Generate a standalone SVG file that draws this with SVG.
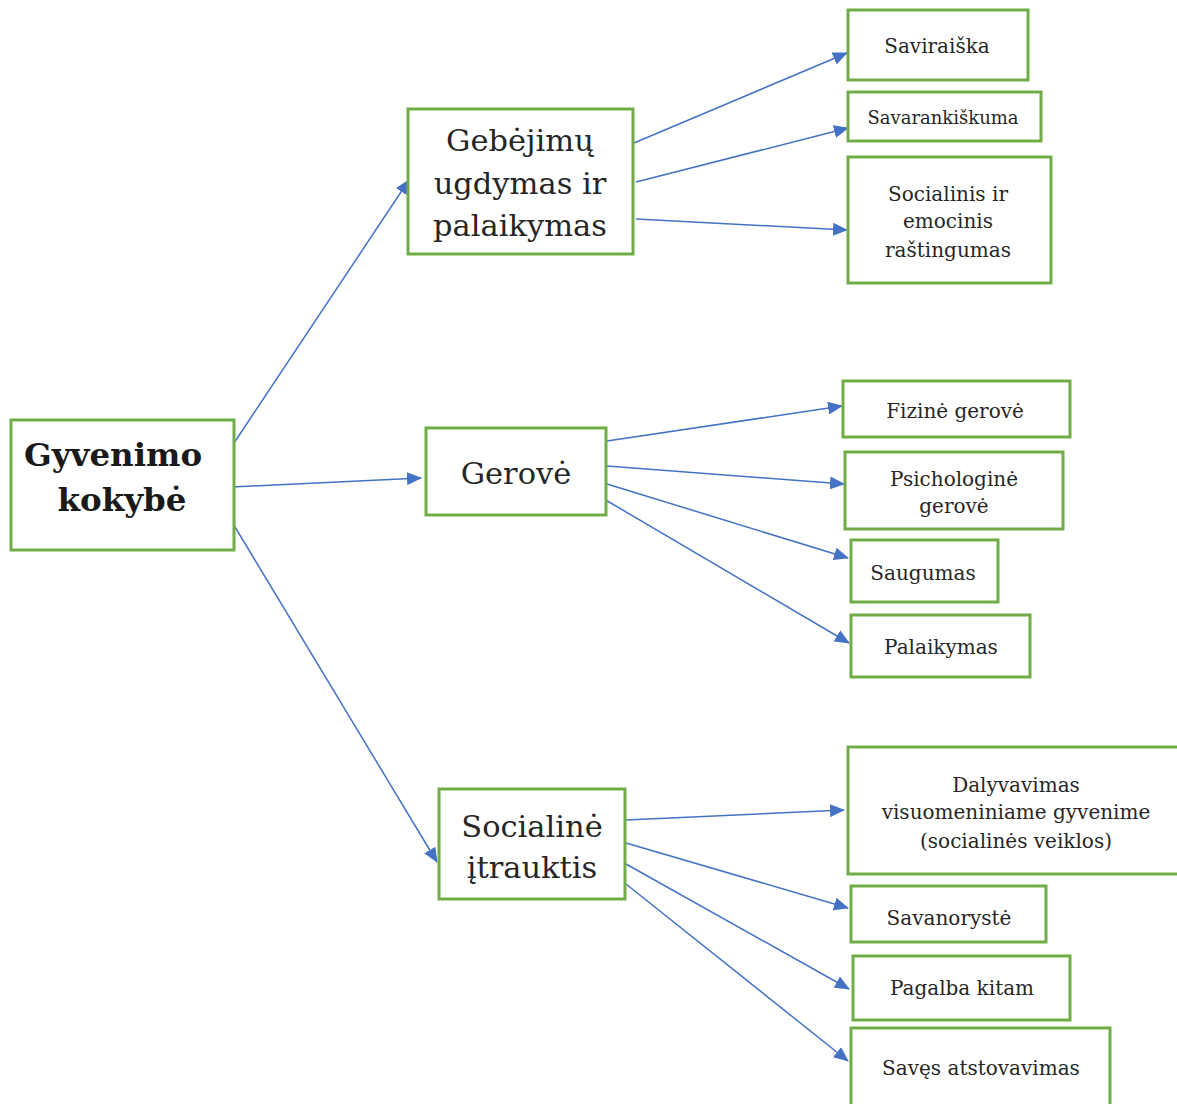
<svg xmlns="http://www.w3.org/2000/svg" width="1177" height="1104" viewBox="0 0 1177 1104">
<style>
.box{fill:#fff;stroke:#70ad47;stroke-width:3}
.c{stroke:#4472c4;stroke-width:1.5;fill:none;marker-end:url(#ah)}
text{font-family:"DejaVu Serif","Liberation Serif",serif;fill:#262626;text-anchor:middle}
.root{font-size:32.5px;font-weight:bold;fill:#1a1a1a}
.mid{font-size:30.5px}
.leaf{font-size:20px}
.sm{font-size:18px}
</style>
<defs>
<marker id="ah" markerUnits="userSpaceOnUse" markerWidth="15" markerHeight="13" refX="14" refY="6.5" orient="auto">
<path d="M0,0 L15,6.5 L0,13 z" fill="#4472c4"/>
</marker>
</defs>
<rect width="1177" height="1104" fill="#fff"/>
<g id="connectors">
<line class="c" x1="234" y1="443" x2="409" y2="180"/>
<line class="c" x1="232" y1="487" x2="421" y2="478"/>
<line class="c" x1="232" y1="522" x2="437" y2="862"/>
<line class="c" x1="634" y1="143" x2="847" y2="53"/>
<line class="c" x1="636" y1="182" x2="848" y2="128"/>
<line class="c" x1="636" y1="219" x2="847" y2="230"/>
<line class="c" x1="607" y1="441" x2="842" y2="406"/>
<line class="c" x1="607" y1="466" x2="844" y2="484"/>
<line class="c" x1="607" y1="484" x2="848" y2="558"/>
<line class="c" x1="604" y1="499" x2="849" y2="643"/>
<line class="c" x1="626" y1="820" x2="844" y2="810"/>
<line class="c" x1="626" y1="843" x2="848" y2="908"/>
<line class="c" x1="626" y1="864" x2="849" y2="989"/>
<line class="c" x1="626" y1="884" x2="848" y2="1061"/>
</g>
<g id="n-root">
<rect class="box" x="11" y="420" width="223" height="130"/>
<text class="root" x="113" y="466">Gyvenimo</text>
<text class="root" x="122" y="511">kokybė</text>
</g>
<g id="n-gebejimu">
<rect class="box" x="408" y="109" width="225" height="145"/>
<text class="mid" x="520" y="151">Gebėjimų</text>
<text class="mid" x="520" y="194">ugdymas ir</text>
<text class="mid" x="520" y="236">palaikymas</text>
</g>
<g id="n-gerove">
<rect class="box" x="426" y="428" width="180" height="87"/>
<text class="mid" x="516" y="484">Gerovė</text>
</g>
<g id="n-socialine">
<rect class="box" x="439" y="789" width="186" height="110"/>
<text class="mid" x="532" y="837">Socialinė</text>
<text class="mid" x="532" y="878">įtrauktis</text>
</g>
<g id="n-saviraiska">
<rect class="box" x="848" y="10" width="180" height="70"/>
<text class="leaf" x="937" y="53">Saviraiška</text>
</g>
<g id="n-savarankiskuma">
<rect class="box" x="848" y="92" width="193" height="49"/>
<text class="sm" x="943" y="124">Savarankiškuma</text>
</g>
<g id="n-rastingumas">
<rect class="box" x="848" y="157" width="203" height="126"/>
<text class="leaf" x="948" y="201">Socialinis ir</text>
<text class="leaf" x="948" y="228">emocinis</text>
<text class="leaf" x="948" y="257">raštingumas</text>
</g>
<g id="n-fizine">
<rect class="box" x="843" y="381" width="227" height="56"/>
<text class="leaf" x="955" y="418">Fizinė gerovė</text>
</g>
<g id="n-psichologine">
<rect class="box" x="845" y="452" width="218" height="77"/>
<text class="leaf" x="954" y="486">Psichologinė</text>
<text class="leaf" x="954" y="513">gerovė</text>
</g>
<g id="n-saugumas">
<rect class="box" x="851" y="540" width="147" height="62"/>
<text class="leaf" x="923" y="580">Saugumas</text>
</g>
<g id="n-palaikymas">
<rect class="box" x="851" y="615" width="179" height="62"/>
<text class="leaf" x="941" y="654">Palaikymas</text>
</g>
<g id="n-dalyvavimas">
<rect class="box" x="848" y="747" width="335" height="127"/>
<text class="leaf" x="1016" y="792">Dalyvavimas</text>
<text class="leaf" x="1016" y="819">visuomeniniame gyvenime</text>
<text class="leaf" x="1016" y="848">(socialinės veiklos)</text>
</g>
<g id="n-savanoryste">
<rect class="box" x="851" y="886" width="195" height="56"/>
<text class="leaf" x="949" y="925">Savanorystė</text>
</g>
<g id="n-pagalba">
<rect class="box" x="853" y="956" width="217" height="64"/>
<text class="leaf" x="962" y="995">Pagalba kitam</text>
</g>
<g id="n-saves">
<rect class="box" x="851" y="1028" width="259" height="80"/>
<text class="leaf" x="981" y="1075">Savęs atstovavimas</text>
</g>
</svg>
